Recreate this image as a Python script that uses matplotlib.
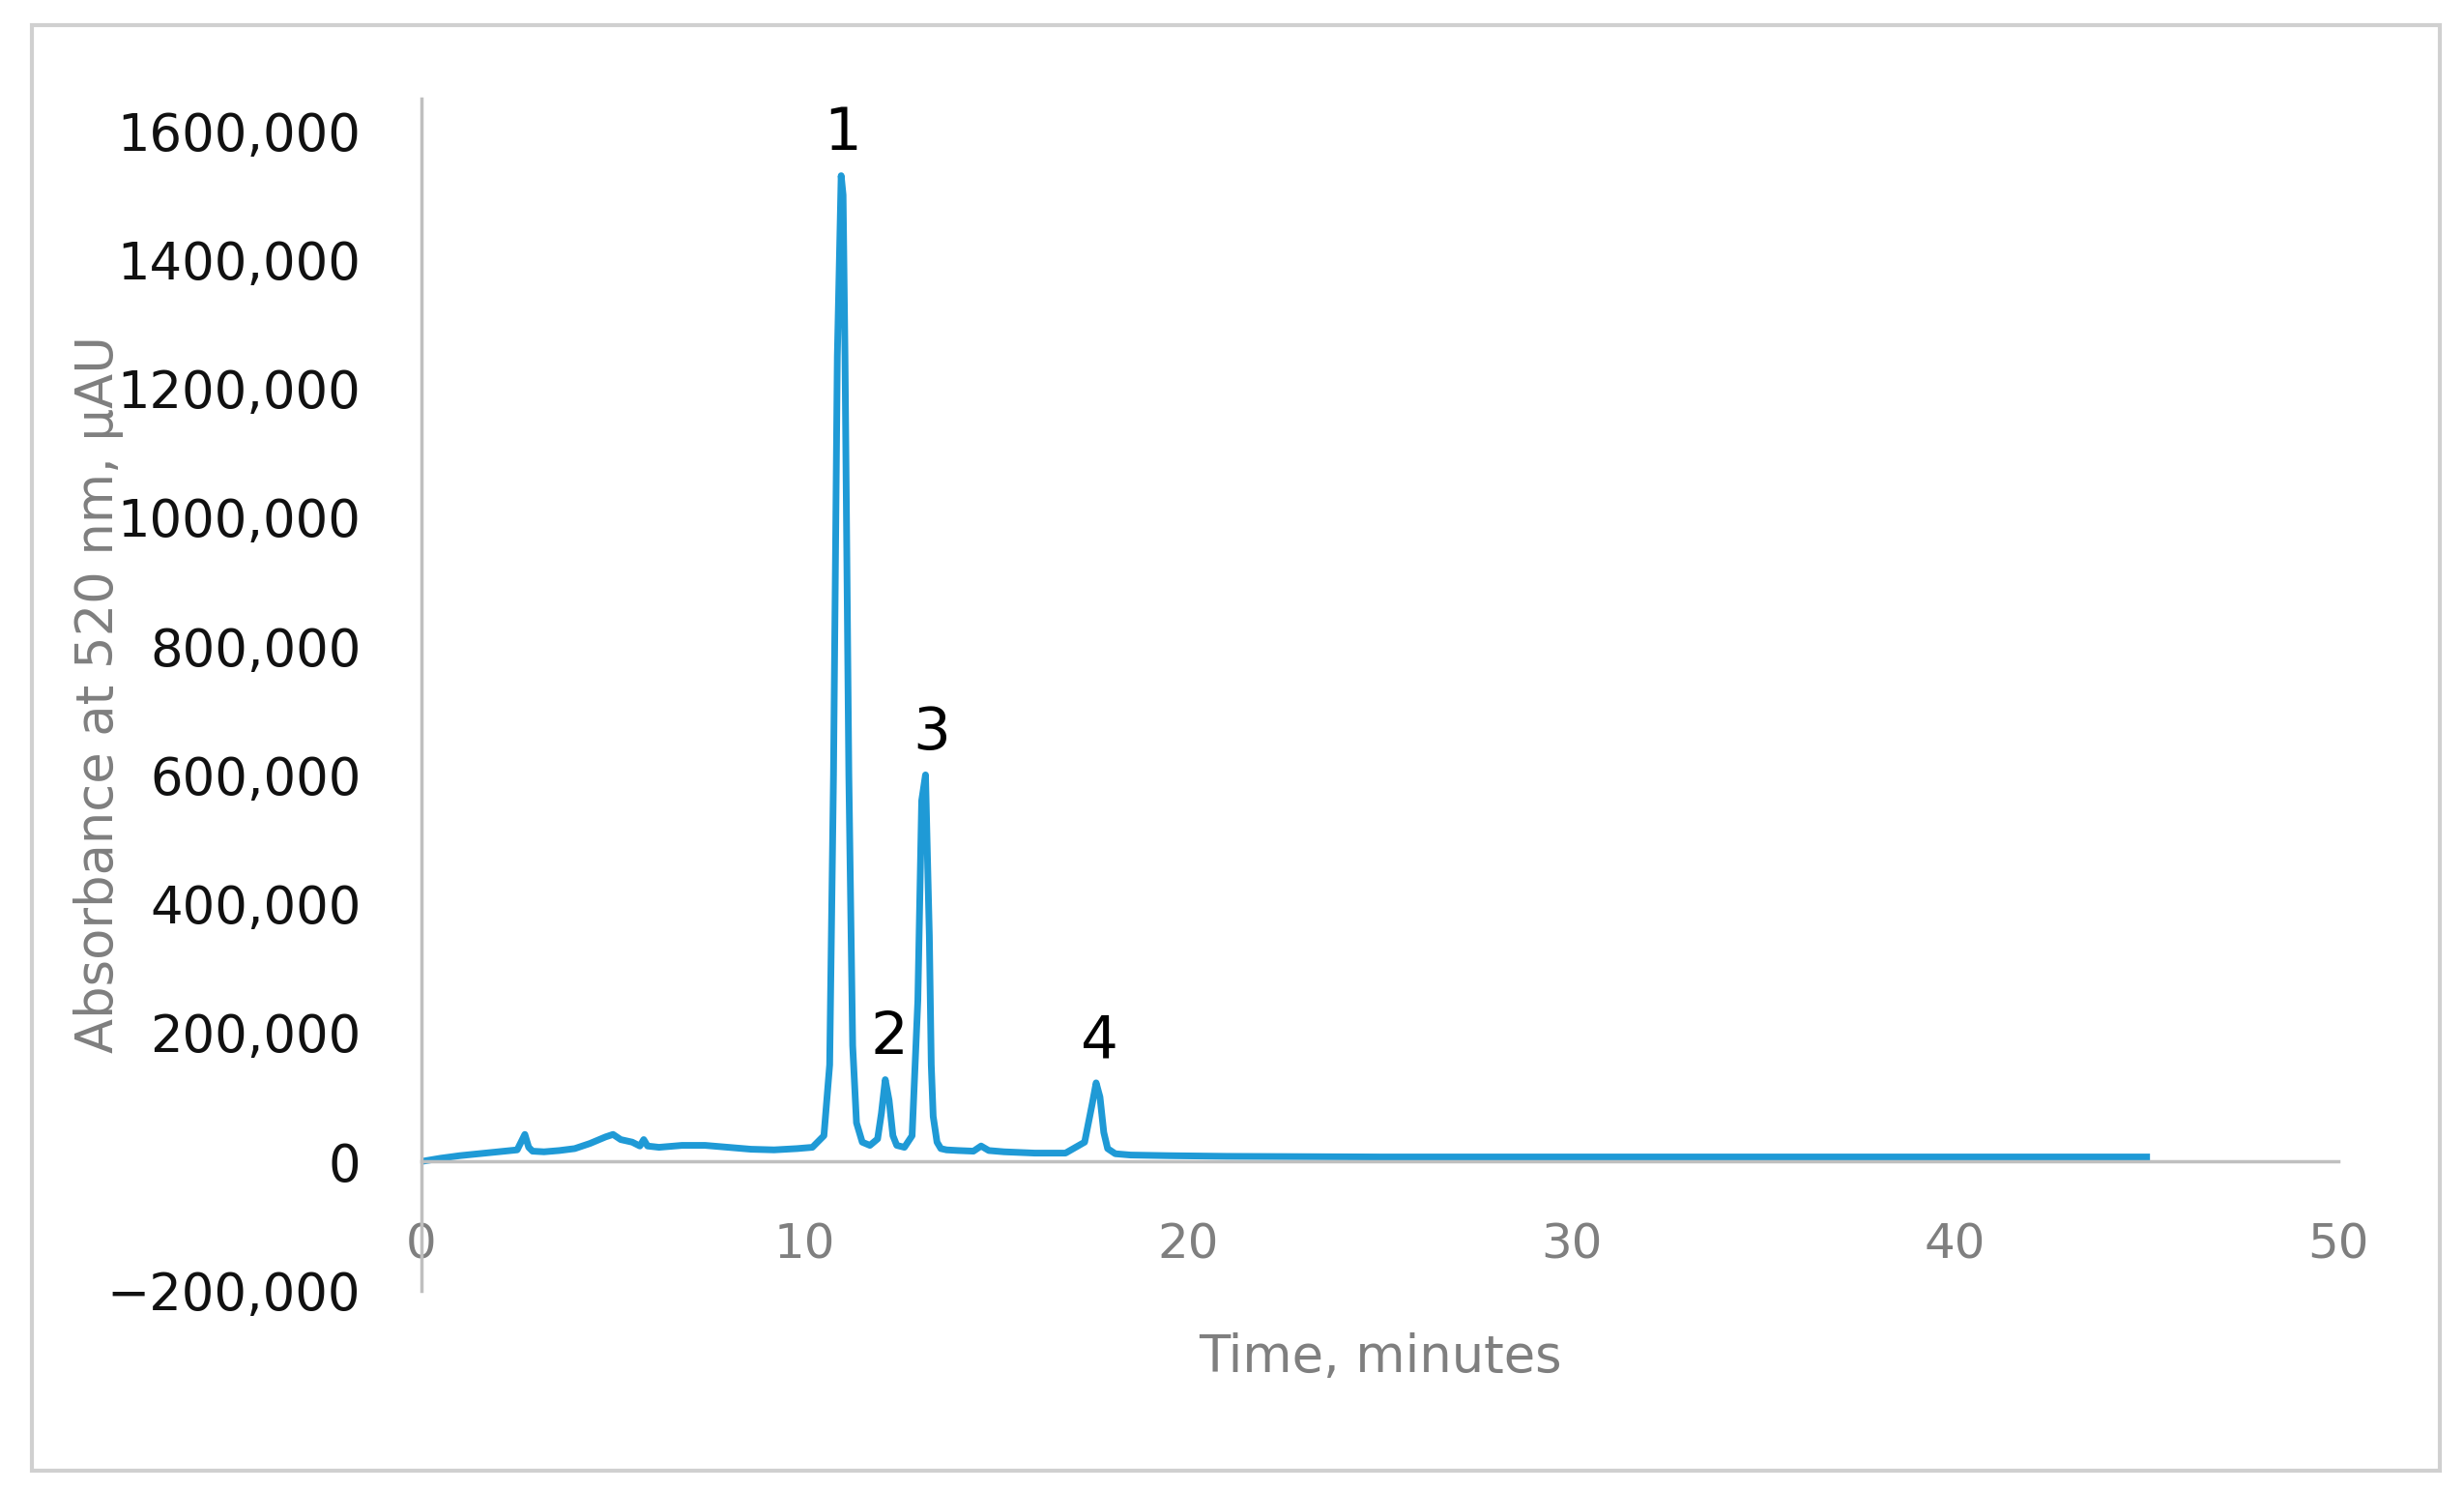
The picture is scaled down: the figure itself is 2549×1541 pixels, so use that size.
import matplotlib.pyplot as plt

# chromatogram (time in minutes, absorbance in uAU)
time_min = [0.0, 0.5, 1.0, 1.5, 2.0, 2.5, 2.6, 2.7, 2.8, 2.9, 3.2, 3.6, 4.0, 4.4, 4.8, 5.0, 5.2, 5.5, 5.7, 5.8, 5.9,
            6.2, 6.8, 7.4, 8.0, 8.6, 9.2, 9.8, 10.2, 10.5, 10.65, 10.75, 10.85, 10.95, 11.0, 11.05, 11.15, 11.25,
            11.35, 11.5, 11.7, 11.9, 12.0, 12.1, 12.2, 12.3, 12.4, 12.6, 12.8, 12.95, 13.05, 13.15, 13.25, 13.3,
            13.35, 13.45, 13.55, 13.7, 14.0, 14.4, 14.6, 14.8, 15.2, 16.0, 16.8, 17.3, 17.5, 17.6, 17.7, 17.8,
            17.9, 18.1, 18.5, 19.5, 21.0, 25.0, 30.0, 35.0, 40.0, 45.0]
absorbance = [0, 5000, 9000, 12000, 15000, 18000, 30000, 42000, 22000, 16000, 15000, 17000, 20000, 28000, 38000,
              42000, 34000, 30000, 24000, 34000, 24000, 22000, 25000, 25000, 22000, 19000, 18000, 20000, 22000,
              40000, 150000, 600000, 1250000, 1530000, 1500000, 1250000, 600000, 180000, 60000, 30000, 25000, 35000,
              75000, 127000, 95000, 40000, 25000, 22000, 40000, 250000, 560000, 600000, 350000, 150000, 70000,
              30000, 20000, 18000, 17000, 16000, 24000, 17000, 15000, 13000, 13000, 30000, 90000, 122000, 100000,
              45000, 20000, 12000, 10000, 9000, 8000, 7000, 7000, 7000, 7000, 7000]

peak_labels = ['1', '2', '3', '4']
peak_times = [11.0, 12.2, 13.3, 17.7]
peak_heights = [1530000, 127000, 600000, 122000]

yticks = [-200000, 0, 200000, 400000, 600000, 800000, 1000000, 1200000, 1400000, 1600000]
ytick_labels = ['\u2212200,000', '0', '200,000', '400,000', '600,000', '800,000',
                '1000,000', '1200,000', '1400,000', '1600,000']
xticks = [0, 10, 20, 30, 40, 50]

fig = plt.figure(figsize=(25.49, 15.41), dpi=100)
ax = fig.add_axes([0.171, 0.134, 0.778, 0.80])
border = plt.Rectangle((0.013, 0.013), 0.977, 0.97, transform=fig.transFigure,
                       fill=False, edgecolor='#d0d0d0', linewidth=3)
fig.patches.append(border)

ax.plot(time_min, absorbance, color='#1f9ad6', linewidth=5, solid_joinstyle='round')

for lab, t, h in zip(peak_labels, peak_times, peak_heights):
    ax.annotate(lab, (t, h), xytext=(0, 10), textcoords='offset points',
                ha='center', va='bottom', fontsize=44)

ax.set_xlim(0, 50)
ax.set_ylim(-200000, 1650000)
ax.set_yticks(yticks)
ax.set_yticklabels(ytick_labels)
ax.set_xticks(xticks)
ax.tick_params(axis='y', length=0, labelsize=38, pad=45, labelcolor='#111111')
ax.tick_params(axis='x', length=0, labelsize=36, pad=45, labelcolor='#7f7f7f')

for side in ['top', 'right']:
    ax.spines[side].set_visible(False)
ax.spines['bottom'].set_position(('data', 0))
ax.spines['bottom'].set_color('#bfbfbf')
ax.spines['bottom'].set_linewidth(2.5)
ax.spines['left'].set_color('#bfbfbf')
ax.spines['left'].set_linewidth(2.5)

ax.set_ylabel('Absorbance at 520 nm, \u03bcAU', fontsize=38, color='#7f7f7f')
ax.yaxis.set_label_coords(-0.155, 0.5)
ax.set_xlabel('Time, minutes', fontsize=38, color='#7f7f7f')
ax.xaxis.set_label_coords(0.5, -0.035)

fig.savefig('out.png', dpi=100)
